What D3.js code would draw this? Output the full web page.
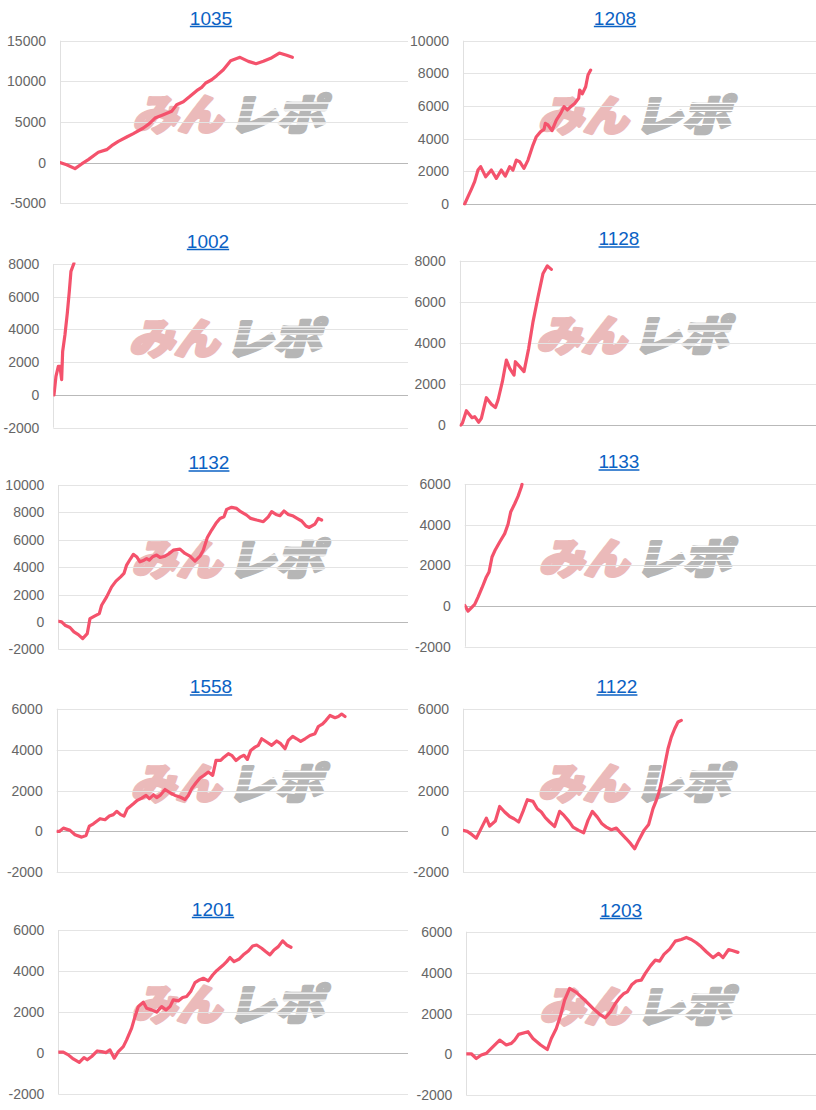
<!DOCTYPE html>
<html>
<head>
<meta charset="utf-8">
<script src="https://cdn.jsdelivr.net/npm/d3@7"></script>
<style>
  html, body { margin: 0; padding: 0; background: #fff; }
  svg { display: block; }
</style>
</head>
<body>
<svg id="chart" width="816" height="1110"></svg>
<script>
// ---------- DATA ----------
const titles = ["1035", "1208", "1002", "1128", "1132", "1133", "1558", "1122", "1201", "1203"];

const ticks_1035 = [-5000, 0, 5000, 10000, 15000];
const ticks_1208 = [0, 2000, 4000, 6000, 8000, 10000];
const ticks_1002 = [-2000, 0, 2000, 4000, 6000, 8000];
const ticks_1128 = [0, 2000, 4000, 6000, 8000];
const ticks_1132 = [-2000, 0, 2000, 4000, 6000, 8000, 10000];
const ticks_1133 = [-2000, 0, 2000, 4000, 6000];
const ticks_1558 = [-2000, 0, 2000, 4000, 6000];
const ticks_1122 = [-2000, 0, 2000, 4000, 6000];
const ticks_1201 = [-2000, 0, 2000, 4000, 6000];
const ticks_1203 = [-2000, 0, 2000, 4000, 6000];

// x = games played, y = cumulative difference
const games_1035 = [0,153,345,498,651,881,1073,1188,1341,1533,1686,1916,2054,2184,2375,2567,2682,2835,2989,3142,3257,3349,3487,3602,3755,3923,4138,4330,4506,4675,4843,5042,5211,5341];
const values_1035 = [0,-250,-740,-160,370,1270,1600,2090,2620,3150,3570,4260,4800,5490,5900,6310,7130,7500,8160,8850,9260,9800,10200,10700,11430,12540,12950,12460,12170,12460,12830,13480,13200,12950];

const games_1208 = [38,113,189,264,340,400,514,642,755,869,959,1058,1133,1209,1284,1382,1473,1586,1662,1760,1836,1866,1926,2017,2115,2213,2289,2364,2440,2531,2621,2644,2704,2780,2833,2893];
const values_1208 = [0,450,900,1370,2080,2290,1670,2080,1570,2080,1710,2290,2080,2690,2590,2180,2690,3610,4120,4430,4570,4940,4840,4490,5140,5550,5960,5760,5960,6160,6470,6980,6740,7180,7900,8200];

const games_1002 = [15,60,113,150,188,211,263,316,361,398,466];
const values_1002 = [0,1140,1750,1750,940,2660,3680,5000,6330,7550,8050];

const games_1128 = [22,60,150,277,337,427,486,599,711,801,861,958,1048,1123,1220,1250,1347,1444,1549,1647,1759,1871,1968,2058];
const values_1128 = [0,100,710,370,420,150,340,1340,1020,860,1230,2120,3170,2770,2440,3090,2850,2610,3740,5040,6250,7380,7750,7580];

const games_1132 = [0,76,153,267,358,458,557,663,724,839,938,991,1106,1220,1319,1426,1502,1563,1655,1716,1792,1868,1960,2021,2082,2158,2250,2326,2440,2517,2631,2784,2898,3012,3127,3241,3317,3409,3508,3607,3699,3790,3851,3965,4080,4172,4309,4401,4538,4690,4804,4881,4980,5071,5163,5262,5376,5491,5567,5666,5742,5872,5948,6024];
const values_1132 = [50,0,-240,-410,-730,-930,-1220,-850,240,440,610,1220,1830,2560,2980,3290,3540,4150,4630,4930,4760,4390,4510,4630,4510,4760,4880,4710,4800,4950,5240,5320,5000,4800,4440,4800,5240,6170,6710,7200,7560,7680,8220,8370,8290,8050,7800,7560,7440,7320,7680,8050,7850,7760,8100,7850,7730,7510,7370,7000,6900,7150,7560,7440];

const games_1133 = [0,76,167,228,304,395,493,554,622,698,797,911,987,1047,1139,1214,1290,1305];
const values_1133 = [30,-250,-50,80,440,900,1430,1670,2410,2770,3150,3560,4020,4620,5030,5390,5850,5980];

const games_1558 = [0,61,152,304,417,569,668,744,835,987,1100,1199,1290,1366,1457,1533,1609,1746,1837,1936,2034,2110,2201,2277,2353,2467,2581,2695,2808,2922,2998,3074,3173,3264,3355,3453,3552,3628,3734,3810,3909,3985,4083,4175,4266,4342,4418,4516,4592,4668,4782,4896,5010,5101,5200,5275,5374,5465,5556,5655,5768,5882,5958,6057,6133,6224,6338,6414,6489,6565];
const values_1558 = [0,0,160,50,-160,-280,-200,260,370,620,570,750,820,980,820,750,1110,1350,1520,1630,1760,1600,1790,1650,1760,2050,1890,1760,1680,1560,1760,2090,2380,2610,2740,2900,2740,3470,3470,3630,3800,3720,3470,3630,3720,3520,3960,4120,4210,4530,4370,4210,4420,4290,4040,4450,4650,4530,4400,4530,4690,4780,5130,5260,5430,5670,5560,5620,5740,5620];

const games_1122 = [0,98,204,302,415,529,604,733,831,944,1058,1156,1262,1360,1458,1586,1684,1775,1866,1964,2077,2191,2289,2402,2493,2621,2735,2833,2931,3044,3150,3248,3362,3475,3588,3701,3800,3890,3981,4102,4208,4306,4381,4442,4495,4555,4646,4721,4797,4872,4948];
const values_1122 = [50,0,-160,-330,160,650,260,510,1220,950,730,620,460,980,1550,1470,1110,950,670,460,240,980,780,490,210,50,-65,540,980,700,370,210,80,160,-110,-360,-600,-850,-440,50,340,1110,1520,1920,2410,3060,4040,4610,5020,5350,5430];

const games_1201 = [0,114,229,343,480,587,663,763,892,991,1091,1182,1281,1373,1487,1563,1678,1754,1830,1945,2021,2135,2250,2364,2463,2555,2631,2745,2844,2936,3028,3127,3226,3317,3432,3531,3622,3760,3851,3928,4019,4141,4233,4347,4446,4538,4652,4743,4843,4934,5033,5132,5224,5323];
const values_1201 = [50,50,-80,-280,-450,-210,-320,-160,110,80,30,160,-240,80,320,650,1220,1780,2270,2480,2190,2110,2000,2270,2110,2270,2600,2550,2710,2760,3000,3440,3570,3650,3520,3810,4020,4270,4460,4660,4460,4590,4790,4980,5220,5270,5110,4950,4790,5030,5190,5470,5270,5160];

const games_1203 = [0,114,229,343,458,572,763,915,1030,1106,1197,1411,1525,1701,1853,1945,2059,2158,2250,2364,2517,2707,2898,3050,3180,3302,3409,3508,3607,3683,3790,3889,4004,4095,4217,4324,4423,4522,4652,4782,4919,5033,5147,5262,5376,5491,5643,5773,5872,6002,6101,6215];
const values_1203 = [30,30,-200,-30,50,290,700,460,540,700,980,1110,780,460,240,780,1270,1920,2660,3230,3030,2660,2250,1960,1790,2090,2490,2770,2980,3060,3420,3590,3630,3960,4340,4610,4560,4890,5150,5540,5620,5720,5620,5460,5260,5020,4730,4940,4730,5130,5070,4990];

const gameDomain = [0, 8000];

// ---------- LAYOUT (positions only, not data) ----------
const panels = [
  { title: titles[0], ticks: ticks_1035, games: games_1035, values: values_1035, left: 60,    right: 408, top: 40.7,  bottom: 203.3,  tx: 211, ty: 18 },
  { title: titles[1], ticks: ticks_1208, games: games_1208, values: values_1208, left: 463,   right: 816, top: 40.7,  bottom: 204,    tx: 615, ty: 18 },
  { title: titles[2], ticks: ticks_1002, games: games_1002, values: values_1002, left: 53.3,  right: 408, top: 264,   bottom: 427.7,  tx: 208, ty: 241 },
  { title: titles[3], ticks: ticks_1128, games: games_1128, values: values_1128, left: 459.7, right: 816, top: 260.7, bottom: 425.3,  tx: 619, ty: 238.5 },
  { title: titles[4], ticks: ticks_1132, games: games_1132, values: values_1132, left: 58.3,  right: 408, top: 485,   bottom: 649.3,  tx: 209, ty: 462.5 },
  { title: titles[5], ticks: ticks_1133, games: games_1133, values: values_1133, left: 464.7, right: 816, top: 484,   bottom: 646.7,  tx: 619, ty: 461.5 },
  { title: titles[6], ticks: ticks_1558, games: games_1558, values: values_1558, left: 56.7,  right: 408, top: 708.7, bottom: 872.3,  tx: 211, ty: 686.5 },
  { title: titles[7], ticks: ticks_1122, games: games_1122, values: values_1122, left: 463,   right: 816, top: 708.7, bottom: 872.3,  tx: 617, ty: 686.5 },
  { title: titles[8], ticks: ticks_1201, games: games_1201, values: values_1201, left: 58.3,  right: 408, top: 930,   bottom: 1094.3, tx: 213, ty: 909 },
  { title: titles[9], ticks: ticks_1203, games: games_1203, values: values_1203, left: 466.3, right: 816, top: 931.7, bottom: 1095.3, tx: 621, ty: 910 }
];

const LINE_COLOR = "rgb(244,82,108)";
const svg = d3.select("#chart");

panels.forEach((p, i) => {
  const g = svg.append("g");
  const x = d3.scaleLinear().domain(gameDomain).range([p.left, p.right]);
  const y = d3.scaleLinear().domain(d3.extent(p.ticks)).range([p.bottom, p.top]);

  // watermark (background)
  const cx = (p.left + p.right) / 2 - 4;
  const cy = (p.top + p.bottom) / 2 - 10;
  const wm = g.append("g").attr("transform", `translate(${cx},${cy}) skewX(-14)`);
  const wmText = (txt, xx, anchor, len, color) => wm.append("text")
    .attr("x", xx).attr("y", 0)
    .attr("text-anchor", anchor)
    .attr("dominant-baseline", "central")
    .attr("font-family", "'Noto Sans CJK JP', sans-serif")
    .attr("font-weight", 900)
    .attr("font-size", 42)
    .attr("textLength", len)
    .attr("lengthAdjust", "spacingAndGlyphs")
    .attr("fill", color)
    .attr("stroke", color)
    .attr("stroke-width", 3.2)
    .attr("stroke-linejoin", "round")
    .text(txt);
  wmText("みん", -3, "end", 90, "#ebbaba");
  wmText("レポ", 3, "start", 96, "#b6b6b6");
  // speed stripes across the grey part
  [-9, -2, 5, 12].forEach(dy => {
    wm.append("rect")
      .attr("x", 3).attr("y", dy - 0.7)
      .attr("width", 104).attr("height", 1.4)
      .attr("fill", "#fff");
  });

  // horizontal grid
  g.selectAll(".grid").data(p.ticks).enter().append("line")
    .attr("x1", p.left).attr("x2", p.right)
    .attr("y1", d => Math.round(y(d)) + 0.5).attr("y2", d => Math.round(y(d)) + 0.5)
    .attr("stroke", d => d === 0 ? "#b9b9b9" : "#e4e4e4")
    .attr("stroke-width", 1);

  // vertical axis line
  g.append("line")
    .attr("x1", Math.round(p.left) + 0.5).attr("x2", Math.round(p.left) + 0.5)
    .attr("y1", p.top).attr("y2", p.bottom)
    .attr("stroke", "#e0e0e0");

  // y tick labels
  g.selectAll(".tick").data(p.ticks).enter().append("text")
    .attr("x", p.left - 14)
    .attr("y", d => y(d))
    .attr("text-anchor", "end")
    .attr("dominant-baseline", "central")
    .attr("font-family", "Arial, 'Liberation Sans', sans-serif")
    .attr("font-size", 14)
    .attr("fill", "#666")
    .text(d => String(d));

  // data line (clipped to plot)
  const clipId = "clip" + i;
  svg.append("clipPath").attr("id", clipId).append("rect")
    .attr("x", p.left).attr("y", p.top - 1.5)
    .attr("width", p.right - p.left).attr("height", p.bottom - p.top + 3);
  const pts = p.games.map((gm, j) => [gm, p.values[j]]);
  g.append("path")
    .datum(pts)
    .attr("clip-path", `url(#${clipId})`)
    .attr("fill", "none")
    .attr("stroke", LINE_COLOR)
    .attr("stroke-width", 3.2)
    .attr("stroke-linejoin", "round")
    .attr("stroke-linecap", "round")
    .attr("d", d3.line().x(d => x(d[0])).y(d => y(d[1])));

  // title (link style)
  const t = g.append("text")
    .attr("x", p.tx).attr("y", p.ty)
    .attr("text-anchor", "middle")
    .attr("dominant-baseline", "central")
    .attr("font-family", "Arial, 'Liberation Sans', sans-serif")
    .attr("font-size", 19)
    .attr("fill", "#0b62c4")
    .text(p.title);
  const w = t.node().getComputedTextLength();
  g.append("line")
    .attr("x1", p.tx - w / 2).attr("x2", p.tx + w / 2)
    .attr("y1", p.ty + 8.5).attr("y2", p.ty + 8.5)
    .attr("stroke", "#0b62c4").attr("stroke-width", 1.3);
});
</script>
</body>
</html>
